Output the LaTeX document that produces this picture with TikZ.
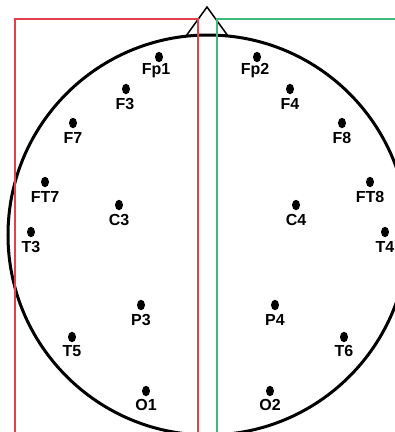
\documentclass[tikz,border=0pt]{standalone}
\usepackage{fontspec}
\setmainfont{Liberation Sans}
\usetikzlibrary{shapes.geometric}
\definecolor{lred}{HTML}{E2404C}
\definecolor{lgreen}{HTML}{3DB97A}
\begin{document}
\begin{tikzpicture}[x=1pt,y=-1pt,
  dotmark/.style={fill=black,draw=none,ellipse,inner sep=0pt,minimum width=8pt,minimum height=10.5pt},
  lbl/.style={font=\fontsize{16}{16}\selectfont\bfseries,inner sep=0pt,anchor=center},
  region/.style={line width=2.6pt}]
\useasboundingbox (0,0) rectangle (395,432);
\clip (0,0) rectangle (395,432);
% head
\draw[line width=1.5pt,fill=white] (186,36) -- (207,7) -- (228,36);
\draw[line width=3pt] (208,235) circle [radius=200];
% regions
\coordinate (rbl) at (15,432);
\coordinate (rtl) at (15,19);
\coordinate (rtr) at (198,19);
\coordinate (rbr) at (198,432);
\draw[region,lred] (rbl) -- (rtl) -- (rtr) -- (rbr);
\coordinate (gbl) at (217,432);
\coordinate (gtl) at (217,19);
\coordinate (gtr) at (400,19);
\draw[region,lgreen] (gbl) -- (gtl) -- (gtr);
% electrodes
\foreach \n/\dx/\dy/\lx/\ly in {
 Fp1/159/57/156/71, Fp2/257/57/255/71,
 F3/126/89/125/104, F4/290/89/290/104,
 F7/73/123/73/138, F8/342/123/342/138,
 FT7/45/182/45/197, FT8/370/182/370/197,
 C3/119/205/119/220, C4/296/205/296/220,
 T3/31/232/31/247, T4/385/232/385/247,
 P3/141/305/141/320, P4/275/305/275/320,
 T5/72/337/72/351, T6/344/337/344/351,
 O1/146/391/146/405, O2/270/391/270/405}{
 \node[dotmark] (d\n) at (\dx,\dy) {};
 \node[lbl] (l\n) at (\lx,\ly) {\n};
}
\end{tikzpicture}
\end{document}
